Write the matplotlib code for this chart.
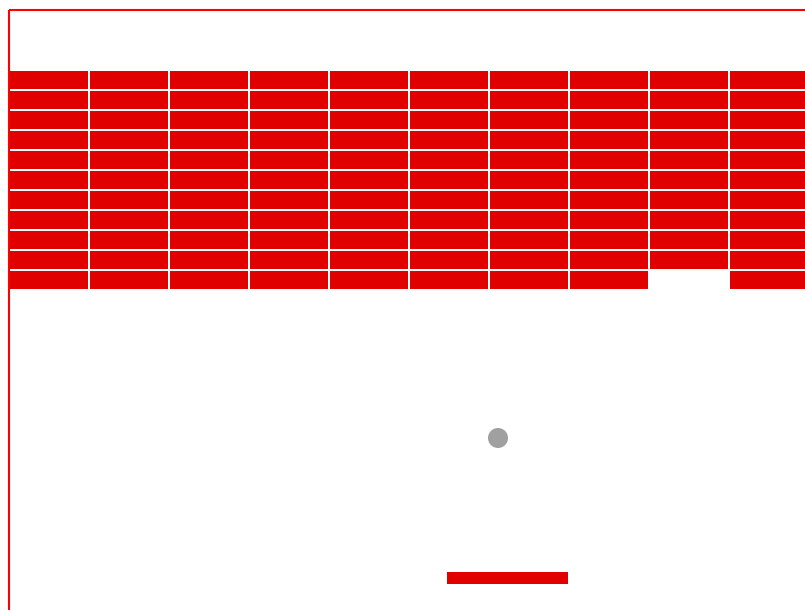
#breakout board snapshot
#brick grid + ball + paddle drawn in pixel coords

import matplotlib
matplotlib.use("Agg")
import matplotlib.pyplot as plt
from matplotlib.patches import Rectangle, Circle

#1 = brick still there, 0 = broken
bricks = [
    [1, 1, 1, 1, 1, 1, 1, 1, 1, 1],
    [1, 1, 1, 1, 1, 1, 1, 1, 1, 1],
    [1, 1, 1, 1, 1, 1, 1, 1, 1, 1],
    [1, 1, 1, 1, 1, 1, 1, 1, 1, 1],
    [1, 1, 1, 1, 1, 1, 1, 1, 1, 1],
    [1, 1, 1, 1, 1, 1, 1, 1, 1, 1],
    [1, 1, 1, 1, 1, 1, 1, 1, 1, 1],
    [1, 1, 1, 1, 1, 1, 1, 1, 1, 1],
    [1, 1, 1, 1, 1, 1, 1, 1, 1, 1],
    [1, 1, 1, 1, 1, 1, 1, 1, 1, 1],
    [1, 1, 1, 1, 1, 1, 1, 1, 0, 1],
]
ball = (498, 438)
paddle = (447, 572)

W, H = 805, 610
BRICK_W, BRICK_H, GAP = 78, 18, 2
GRID_X, GRID_Y = 10, 71
BRICK_COLOR = "#e00000"

fig = plt.figure(figsize=(W / 100, H / 100), dpi=100)
ax = fig.add_axes([0, 0, 1, 1])
ax.set_xlim(0, W)
ax.set_ylim(H, 0)
ax.axis("off")

#play field border (runs off the right/bottom edge)
ax.add_patch(Rectangle((9, 10), 810, 620, fill=False, edgecolor="#ff0000", linewidth=1.5))

for r, row in enumerate(bricks):
    for c, alive in enumerate(row):
        if not alive:
            continue
        x = GRID_X + c * (BRICK_W + GAP)
        y = GRID_Y + r * (BRICK_H + GAP)
        ax.add_patch(Rectangle((x, y), BRICK_W, BRICK_H, facecolor=BRICK_COLOR, edgecolor="none"))

ax.add_patch(Circle(ball, 10, facecolor="#a0a0a0", edgecolor="none"))
ax.add_patch(Rectangle(paddle, 121, 12, facecolor=BRICK_COLOR, edgecolor="none"))

fig.savefig("out.png", dpi=100)
